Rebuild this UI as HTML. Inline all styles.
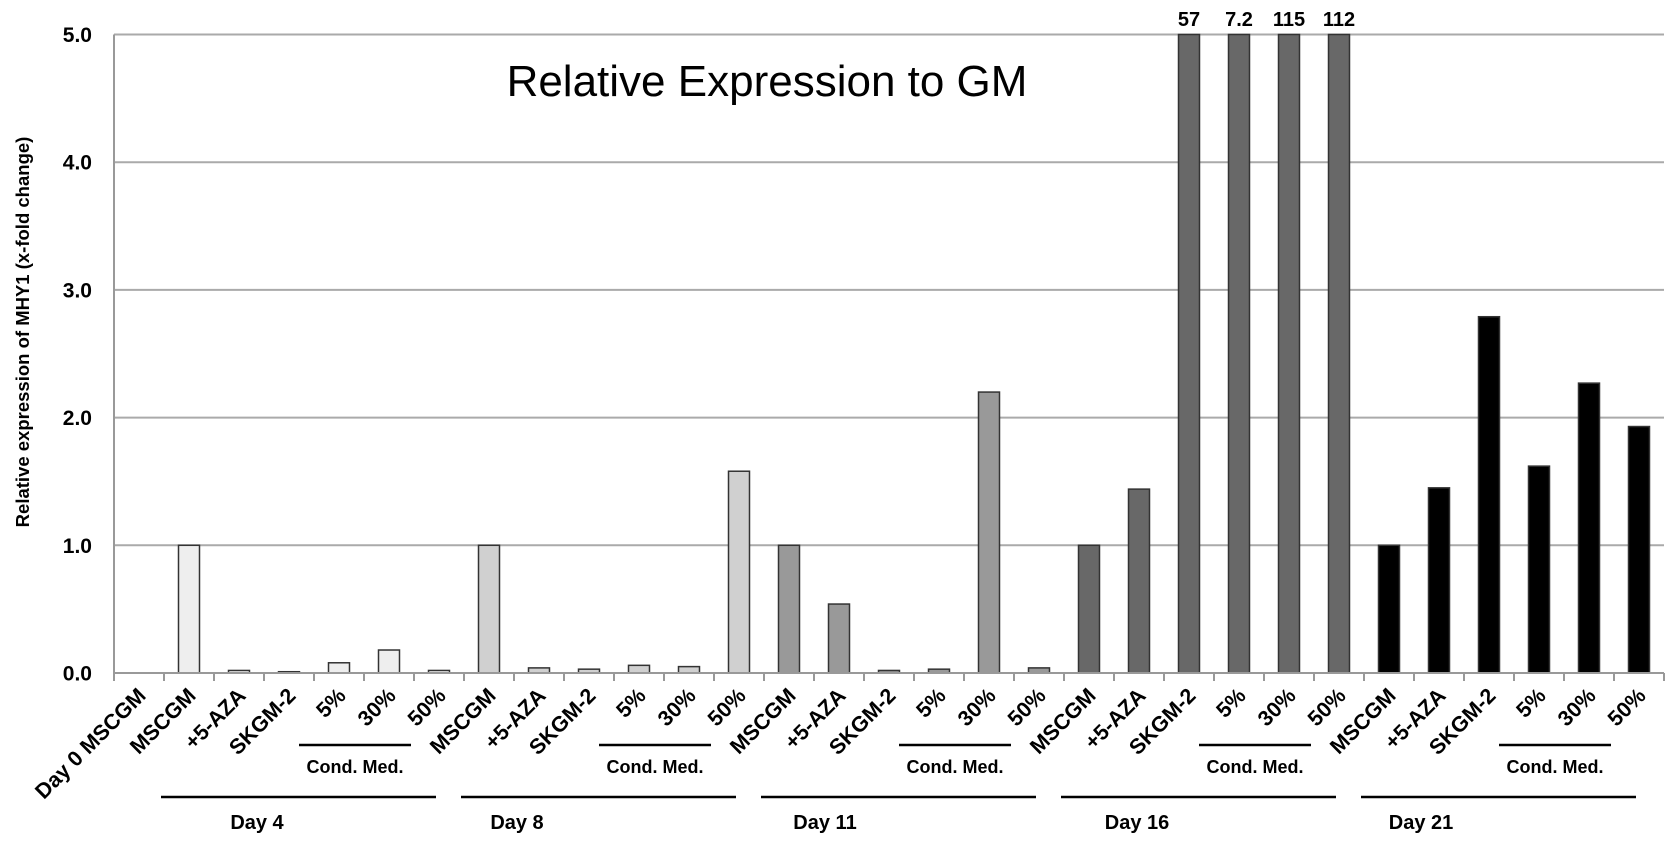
<!DOCTYPE html>
<html><head><meta charset="utf-8"><style>
html,body{margin:0;padding:0;background:#fff;}
svg{display:block;font-family:"Liberation Sans",Arial,sans-serif;}
</style></head><body>
<svg id="chart" width="1677" height="847" viewBox="0 0 1677 847">
<text x="767" y="96" text-anchor="middle" font-size="44" fill="#000">Relative Expression to GM</text>
<text transform="translate(29,332) rotate(-90)" text-anchor="middle" font-size="18.5" font-weight="bold" fill="#000">Relative expression of MHY1 (x-fold change)</text>
<g id="grid"></g><g id="bars"></g><g id="xaxis"></g>
</svg>
<script>
const categories = ["Day 0 MSCGM","MSCGM","+5-AZA","SKGM-2","5%","30%","50%","MSCGM","+5-AZA","SKGM-2","5%","30%","50%","MSCGM","+5-AZA","SKGM-2","5%","30%","50%","MSCGM","+5-AZA","SKGM-2","5%","30%","50%","MSCGM","+5-AZA","SKGM-2","5%","30%","50%"];
const values = [0,1.0,0.02,0.01,0.08,0.18,0.02,1.0,0.04,0.03,0.06,0.05,1.58,1.0,0.54,0.02,0.03,2.2,0.04,1.0,1.44,57,7.2,115,112,1.0,1.45,2.79,1.62,2.27,1.93];
const valueLabels = ["","","","","","","","","","","","","","","","","","","","","","57","7.2","115","112","","","","","",""];
const groupNames = ["Day 4","Day 8","Day 11","Day 16","Day 21"];
const groupFills = ["#eeeeee","#d0d0d0","#999999","#686868","#000000"];
const yTicks = [0,1,2,3,4,5];
const yTickLabels = ["0.0","1.0","2.0","3.0","4.0","5.0"];
const yMax = 5;

const NS="http://www.w3.org/2000/svg";
const X0=114, CW=50, Y0=673, YT=34.5, XR=X0+CW*categories.length;
const y=v=>Y0-(Math.min(v,yMax)/yMax)*(Y0-YT);
const xc=i=>X0+CW*(i+0.5);
function mk(tag,attrs,parent,txt){const e=document.createElementNS(NS,tag);for(const k in attrs)e.setAttribute(k,attrs[k]);if(txt!==undefined)e.textContent=txt;document.getElementById(parent).appendChild(e);return e;}

yTicks.forEach((t,i)=>{
  const l=mk('line',{x1:X0,x2:XR,y1:y(t),y2:y(t),stroke:'#aaa','stroke-width':2},'grid');
  
  
  const tx=mk('text',{x:92,y:y(t)+7.5,'text-anchor':'end','font-size':21,'font-weight':'bold'},'grid',yTickLabels[i]);
  
  
});
const ax=mk('line',{x1:X0,x2:X0,y1:YT,y2:Y0,stroke:'#999','stroke-width':2},'grid');


const bx=mk('line',{x1:X0,x2:XR,y1:Y0,y2:Y0,stroke:'#999','stroke-width':2},'xaxis');


for(let i=0;i<=categories.length;i++){
  const tk=mk('line',{x1:X0+CW*i,x2:X0+CW*i,y1:Y0,y2:Y0+8,stroke:'#999','stroke-width':2},'xaxis');
  
  
}
values.forEach((v,i)=>{
  if(v<=0)return;
  const g=Math.floor((i-1)/6);
  const r=mk('rect',{x:xc(i)-10.5,y:y(v),width:21,height:Y0-y(v),fill:groupFills[g],stroke:'#333','stroke-width':1.5},'bars');
  
  
  if(valueLabels[i]){
    const t=mk('text',{x:xc(i),y:26,'text-anchor':'middle','font-size':20,'font-weight':'bold'},'bars',valueLabels[i]);
    
    
  }
});
categories.forEach((c,i)=>{
  const t=mk('text',{transform:`translate(${xc(i)+8},${Y0+24}) rotate(-45)`,'text-anchor':'end','font-size':21.5,'font-weight':'bold'},'xaxis',c);
  
  
});
const dayTextOff=[93,53,61,73,57];
groupNames.forEach((n,g)=>{
  const s=X0+CW*(1+6*g);
  const l=mk('line',{x1:s-3,x2:s+300-28,y1:797,y2:797,stroke:'#000','stroke-width':2.5},'xaxis');
  
  
  const t=mk('text',{x:s+dayTextOff[g],y:829,'text-anchor':'middle','font-size':20,'font-weight':'bold'},'xaxis',n);
  
  
  const c0=X0+CW*(4+6*g)-15;
  const cl=mk('line',{x1:c0,x2:c0+112,y1:745,y2:745,stroke:'#000','stroke-width':2.5},'xaxis');
  
  
  const ct=mk('text',{x:c0+56,y:773,'text-anchor':'middle','font-size':18,'font-weight':'bold'},'xaxis','Cond. Med.');
  
  
});
</script>
</body></html>
